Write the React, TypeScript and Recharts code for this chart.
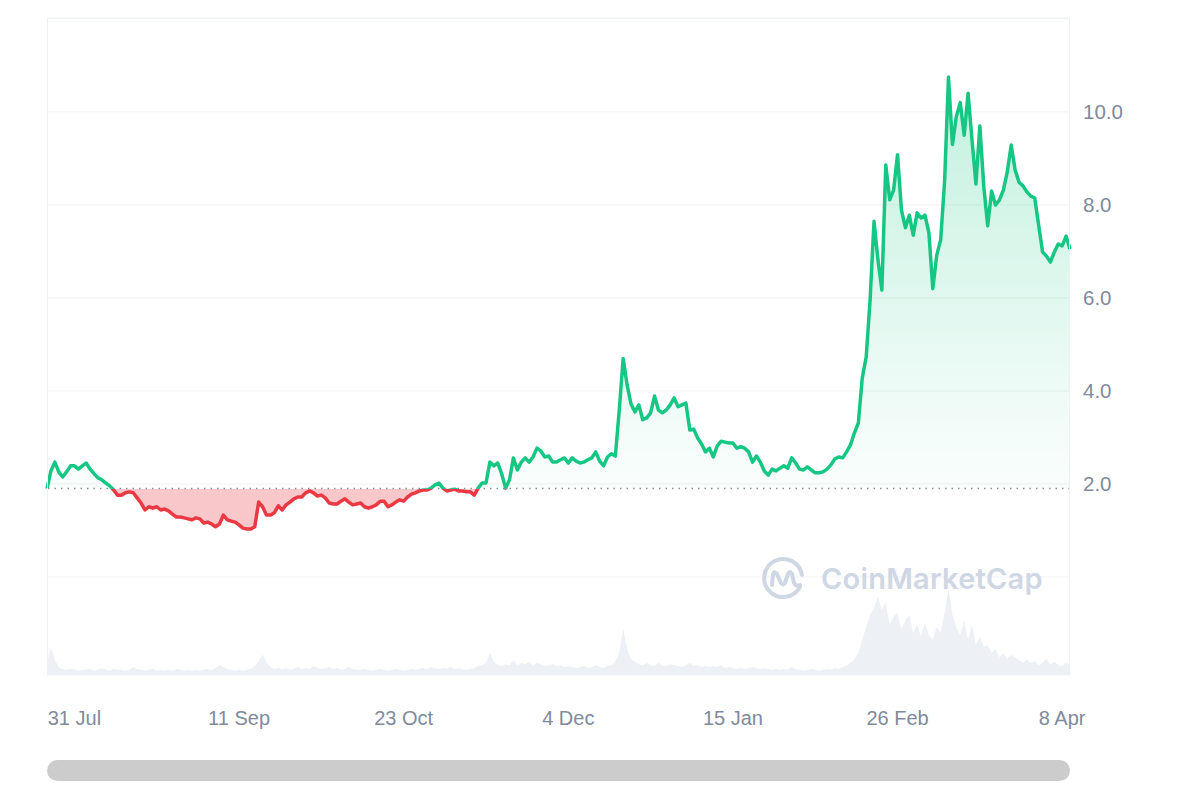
import React from "react";
import {
  ComposedChart,
  Area,
  XAxis,
  YAxis,
  CartesianGrid,
  ReferenceLine,
} from "recharts";

// one value per day, starting 24 Jul
const PRICES = [
  1.90, 2.28, 2.47, 2.26, 2.15, 2.26, 2.39, 2.39, 2.32, 2.39,
  2.45, 2.32, 2.22, 2.13, 2.09, 2.02, 1.96, 1.87, 1.76, 1.76,
  1.81, 1.83, 1.81, 1.70, 1.59, 1.44, 1.51, 1.48, 1.51, 1.44,
  1.46, 1.42, 1.35, 1.29, 1.29, 1.27, 1.25, 1.23, 1.27, 1.25,
  1.16, 1.18, 1.14, 1.08, 1.14, 1.33, 1.23, 1.20, 1.18, 1.12,
  1.05, 1.03, 1.03, 1.08, 1.61, 1.51, 1.33, 1.33, 1.38, 1.53,
  1.44, 1.55, 1.61, 1.68, 1.72, 1.72, 1.81, 1.85, 1.81, 1.74,
  1.76, 1.70, 1.59, 1.57, 1.57, 1.63, 1.68, 1.61, 1.55, 1.57,
  1.59, 1.51, 1.48, 1.51, 1.55, 1.63, 1.63, 1.51, 1.55, 1.61,
  1.66, 1.63, 1.72, 1.78, 1.81, 1.85, 1.87, 1.87, 1.91, 1.98,
  2.02, 1.91, 1.85, 1.87, 1.89, 1.85, 1.85, 1.83, 1.83, 1.76,
  1.91, 2.02, 2.02, 2.47, 2.39, 2.45, 2.22, 1.91, 2.09, 2.56,
  2.30, 2.47, 2.56, 2.47, 2.58, 2.77, 2.71, 2.58, 2.60, 2.47,
  2.47, 2.52, 2.56, 2.45, 2.56, 2.49, 2.45, 2.47, 2.52, 2.56,
  2.69, 2.49, 2.39, 2.58, 2.65, 2.60, 3.59, 4.70, 4.13, 3.72,
  3.55, 3.70, 3.38, 3.42, 3.53, 3.89, 3.59, 3.53, 3.59, 3.70,
  3.85, 3.66, 3.70, 3.74, 3.16, 3.18, 2.99, 2.86, 2.69, 2.77,
  2.58, 2.82, 2.92, 2.90, 2.88, 2.88, 2.77, 2.80, 2.77, 2.69,
  2.47, 2.60, 2.47, 2.28, 2.19, 2.32, 2.28, 2.34, 2.39, 2.34,
  2.56, 2.45, 2.32, 2.30, 2.37, 2.30, 2.24, 2.24, 2.26, 2.32,
  2.41, 2.54, 2.58, 2.56, 2.69, 2.84, 3.10, 3.31, 4.28, 4.73,
  5.96, 7.65, 6.82, 6.17, 8.86, 8.11, 8.32, 9.08, 7.89, 7.51,
  7.78, 7.35, 7.83, 7.72, 7.78, 7.40, 6.20, 6.92, 7.25, 8.50,
  10.75, 9.30, 9.90, 10.20, 9.50, 10.40, 9.40, 8.45, 9.70, 8.40,
  7.55, 8.30, 8.00, 8.11, 8.32, 8.71, 9.29, 8.75, 8.49, 8.41,
  8.28, 8.19, 8.15, 7.57, 6.99, 6.90, 6.77, 6.99, 7.16, 7.12, 7.33, 7.05,
];

// daily volume, $M
const VOLUMES = [
  2.6, 5.8, 3.2, 1.7, 1.3, 1.1, 1.3, 1.1, 0.9, 1.1,
  1.1, 1.3, 0.9, 1.1, 1.5, 1.1, 0.9, 1.3, 1.1, 1.1,
  0.9, 1.1, 1.7, 1.3, 1.1, 0.9, 1.1, 1.3, 0.9, 1.1,
  0.9, 1.1, 0.9, 1.3, 1.1, 0.9, 1.1, 0.9, 1.1, 0.9,
  1.1, 1.3, 1.1, 1.5, 2.1, 1.7, 1.3, 1.1, 0.9, 1.1,
  0.9, 1.1, 1.3, 1.9, 3.0, 4.3, 2.6, 1.7, 1.3, 1.5,
  1.3, 1.5, 1.1, 1.3, 1.7, 1.3, 1.5, 1.3, 1.9, 1.5,
  1.3, 1.5, 1.7, 1.3, 1.5, 1.1, 1.3, 1.7, 1.3, 1.1,
  1.1, 1.3, 1.1, 0.9, 1.1, 1.3, 1.1, 0.9, 1.1, 1.3,
  1.1, 0.9, 1.1, 1.3, 1.1, 1.3, 1.5, 1.3, 1.7, 1.5,
  1.3, 1.5, 1.3, 1.7, 1.3, 1.5, 1.3, 1.1, 1.3, 1.5,
  1.9, 2.1, 2.6, 4.7, 2.8, 2.1, 1.9, 2.3, 2.1, 3.2,
  2.1, 2.6, 2.3, 2.8, 2.1, 2.6, 2.3, 1.9, 2.1, 2.3,
  1.9, 2.1, 1.7, 1.9, 1.7, 1.5, 1.7, 1.9, 1.5, 1.7,
  2.1, 1.7, 1.5, 1.9, 2.1, 3.0, 4.7, 10.0, 5.5, 3.4,
  2.8, 2.3, 2.1, 2.6, 2.1, 1.9, 2.6, 2.1, 1.9, 2.3,
  2.1, 1.9, 1.7, 2.1, 2.6, 1.9, 2.1, 1.7, 1.9, 1.7,
  1.9, 1.7, 2.1, 1.5, 1.7, 1.5, 1.3, 1.5, 1.3, 1.5,
  1.7, 1.5, 1.3, 1.5, 1.3, 1.1, 1.3, 1.1, 1.3, 1.1,
  1.7, 1.3, 1.1, 0.9, 1.1, 1.3, 1.1, 0.9, 1.1, 1.3,
  1.1, 1.5, 1.3, 1.7, 2.1, 2.6, 3.4, 4.7, 7.5, 10.2,
  12.8, 14.5, 16.6, 13.9, 15.4, 10.7, 12.4, 13.2, 9.6, 11.7,
  12.8, 9.0, 10.7, 8.1, 11.1, 8.5, 7.5, 10.2, 9.0, 13.2,
  18.5, 12.8, 10.2, 8.5, 11.7, 7.5, 10.7, 6.4, 8.1, 6.0,
  6.4, 4.7, 5.5, 3.8, 4.7, 3.4, 4.3, 3.6, 3.2, 2.6,
  3.2, 2.6, 3.0, 2.1, 2.6, 3.4, 2.3, 2.8, 2.1, 1.9, 2.6, 2.1,
];

const TICK_DAYS = [7, 49, 91, 133, 175, 217, 259];
const TICK_LABELS = ["31 Jul", "11 Sep", "23 Oct", "4 Dec", "15 Jan", "26 Feb", "8 Apr"];
const PRICE_TICKS = [0, 2, 4, 6, 8, 10];
const BASELINE = 1.9;

const GREEN = "#16c784";
const RED = "#ea3943";
const TEXT = "#808a9d";

const data = PRICES.map((price, i) => ({ day: i, price, volume: VOLUMES[i] }));

const maxP = Math.max(...PRICES);
const minP = Math.min(...PRICES);
const split = (maxP - BASELINE) / (maxP - minP);

function Watermark() {
  return (
    <div style={{ position: "absolute", left: 759, top: 554, display: "flex", alignItems: "center", pointerEvents: "none" }}>
      <svg width={48} height={48} viewBox="0 0 48 48">
        <path d="M 41 33 A 19 19 0 1 1 43 21" fill="none" stroke="#cfd6e4" strokeWidth={4} strokeLinecap="round" />
        <path
          d="M 13 31 L 14 21 Q 15 16 18 20 L 22 29 Q 24 32 26 29 L 29 20 Q 31 16 33 20 L 35 29 Q 37 33 41 31"
          fill="none"
          stroke="#cfd6e4"
          strokeWidth={4}
          strokeLinecap="round"
          strokeLinejoin="round"
        />
      </svg>
      <span style={{ marginLeft: 14, fontFamily: "Inter, 'Noto Sans', sans-serif", fontWeight: 600, fontSize: 29, color: "#cfd6e4", letterSpacing: 0.2 }}>
        CoinMarketCap
      </span>
    </div>
  );
}

export default function App() {
  return (
    <div style={{ position: "absolute", left: 0, top: 0, width: 1200, height: 800, background: "#fff" }}>
      <ComposedChart width={1200} height={800} data={data} margin={{ top: 18, right: 0, left: 47, bottom: 0 }}>
        <defs>
          <linearGradient id="lineSplit" x1="0" y1="0" x2="0" y2="1">
            <stop offset={split} stopColor={GREEN} />
            <stop offset={split} stopColor={RED} />
          </linearGradient>
          <linearGradient id="fillSplit" x1="0" y1="0" x2="0" y2="1">
            <stop offset={0} stopColor={GREEN} stopOpacity={0.26} />
            <stop offset={split} stopColor={GREEN} stopOpacity={0.02} />
            <stop offset={split} stopColor={RED} stopOpacity={0.28} />
            <stop offset={1} stopColor={RED} stopOpacity={0.28} />
          </linearGradient>
        </defs>
        <CartesianGrid vertical={false} stroke="#eff2f5" yAxisId="price" />
        <XAxis
          dataKey="day"
          type="number"
          domain={[0, PRICES.length - 1]}
          ticks={TICK_DAYS}
          interval={0}
          tickFormatter={(d: number) => TICK_LABELS[TICK_DAYS.indexOf(d)]}
          axisLine={false}
          tickLine={false}
          tickMargin={30}
          height={125}
          tick={{ fill: TEXT, fontSize: 20, fontFamily: "'Liberation Sans', Arial, sans-serif" }}
        />
        <YAxis
          yAxisId="price"
          orientation="right"
          domain={[-2.108, 12.02]}
          ticks={PRICE_TICKS}
          interval={0}
          tickFormatter={(v: number) => (v === 0 ? "" : v.toFixed(1))}
          axisLine={false}
          tickLine={false}
          tickMargin={7}
          width={130}
          tick={{ fill: TEXT, fontSize: 20.5, fontFamily: "'Liberation Sans', Arial, sans-serif", textAnchor: "start" }}
        />
        <YAxis yAxisId="vol" hide domain={[0, 140]} />
        <Area
          yAxisId="vol"
          dataKey="volume"
          type="linear"
          stroke="none"
          fill="#edf0f4"
          fillOpacity={1}
          isAnimationActive={false}
        />
        <ReferenceLine yAxisId="price" y={BASELINE} stroke="#8a919e" strokeWidth={1.5} strokeDasharray="1.5 5" />
        <Area
          yAxisId="price"
          dataKey="price"
          type="linear"
          baseValue={BASELINE}
          stroke="url(#lineSplit)"
          strokeWidth={3.5}
          strokeLinejoin="round"
          fill="url(#fillSplit)"
          fillOpacity={1}
          dot={false}
          activeDot={false}
          isAnimationActive={false}
        />
      </ComposedChart>
      <div
        style={{
          position: "absolute",
          left: 47,
          top: 18,
          width: 1023,
          height: 657,
          boxSizing: "border-box",
          border: "1px solid #eff2f5",
          pointerEvents: "none",
        }}
      />
      <Watermark />
      <div style={{ position: "absolute", left: 47, top: 760, width: 1023, height: 21, borderRadius: 11, background: "#cccccc" }} />
    </div>
  );
}
